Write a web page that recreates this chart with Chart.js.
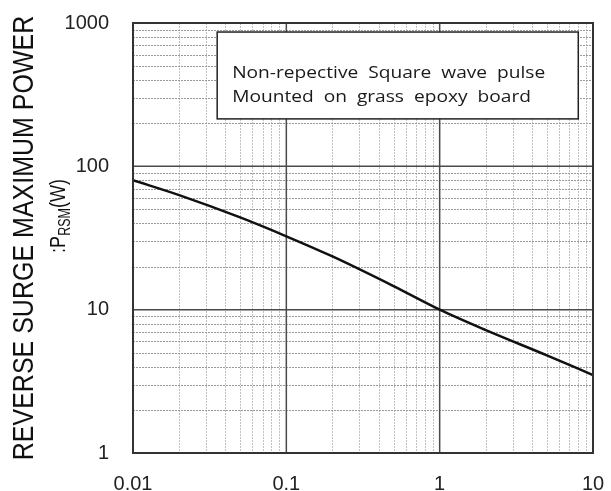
<!DOCTYPE html>
<html><head><meta charset="utf-8">
<script src="https://cdn.jsdelivr.net/npm/chart.js@4/dist/chart.umd.min.js"></script>
<style>html,body{margin:0;padding:0;background:#fff}#wrap{width:611px;height:491px}</style>
</head><body><div id="wrap"><canvas id="c" width="611" height="491"></canvas></div>
<script>
// Pulse width (ms) vs reverse surge maximum power (W)
const pulseWidth = [0.01, 0.02, 0.05, 0.1, 0.2, 0.5, 1, 2, 5, 10];
const powerW     = [80, 63, 44, 32.5, 23.5, 14.6, 10, 7.2, 4.8, 3.5];
const xTicks = [0.01, 0.1, 1, 10];
const yTicks = [1, 10, 100, 1000];
const yTitle = 'REVERSE SURGE MAXIMUM POWER';
const yTitle2 = [':P', 'RSM', '(W)'];
const noteLines = ['Non-repective  Square  wave  pulse', 'Mounted  on  grass  epoxy  board'];

function minorValues(min, max){
  const v=[];
  for(let d=min; d<max; d*=10){ for(let k=2;k<=9;k++) v.push(d*k); }
  return v;
}

const overlay = {
  id:'overlay',
  beforeDatasetsDraw(chart){
    const ctx=chart.ctx, a=chart.chartArea, xs=chart.scales.x, ys=chart.scales.y;
    ctx.save();
    ctx.lineWidth=1;
    ctx.setLineDash([2,1]);
    ctx.strokeStyle='#c0c0c0';
    minorValues(0.01,10).forEach(v=>{
      const x=Math.round(xs.getPixelForValue(v))+0.5;
      ctx.beginPath(); ctx.moveTo(x,a.top); ctx.lineTo(x,a.bottom); ctx.stroke();
    });
    ctx.strokeStyle='#9a9a9a';
    minorValues(1,1000).forEach(v=>{
      const y=Math.round(ys.getPixelForValue(v))+0.5;
      ctx.beginPath(); ctx.moveTo(a.left,y); ctx.lineTo(a.right,y); ctx.stroke();
    });
    ctx.setLineDash([]);
    ctx.strokeStyle='#4a4a4a';
    ctx.lineWidth=1.5;
    xTicks.forEach(v=>{const x=xs.getPixelForValue(v);ctx.beginPath();ctx.moveTo(x,a.top);ctx.lineTo(x,a.bottom);ctx.stroke();});
    yTicks.forEach(v=>{const y=ys.getPixelForValue(v);ctx.beginPath();ctx.moveTo(a.left,y);ctx.lineTo(a.right,y);ctx.stroke();});
    ctx.restore();
  },
  afterDatasetsDraw(chart){
    const ctx=chart.ctx, a=chart.chartArea;
    ctx.save();
    // frame
    ctx.strokeStyle='#333'; ctx.lineWidth=2;
    ctx.strokeRect(a.left,a.top,a.right-a.left,a.bottom-a.top);
    // note box
    const w=a.right-a.left, h=a.bottom-a.top;
    const bx=a.left+w*0.183, by=a.top+h*0.021, bw=w*0.785, bh=h*0.202;
    ctx.fillStyle='#fff'; ctx.fillRect(bx,by,bw,bh);
    ctx.strokeStyle='#222'; ctx.lineWidth=1.5; ctx.strokeRect(bx,by,bw,bh);
    ctx.fillStyle='#1a1a1a';
    ctx.font='17px "Open Sans"';
    ctx.textBaseline='middle'; ctx.textAlign='left';
    const tw=ctx.measureText(noteLines[0]).width;
    const sx=(bw*0.867)/tw;
    [0.47,0.75].forEach((f,i)=>{
      ctx.save();
      ctx.translate(bx+15, by+bh*f);
      ctx.scale(sx,1);
      ctx.fillText(noteLines[i],0,0);
      ctx.restore();
    });
    // y title
    ctx.fillStyle='#111';
    ctx.translate(25, 238);
    ctx.rotate(-Math.PI/2);
    ctx.scale(1,1.2);
    ctx.textAlign='center';
    ctx.textBaseline='middle';
    ctx.font='25px "Liberation Sans", Arial';
    ctx.fillText(yTitle,0,0);
    ctx.restore();
    ctx.save();
    ctx.fillStyle='#111';
    ctx.translate(59, 216);
    ctx.rotate(-Math.PI/2);
    ctx.scale(1,1.25);
    ctx.textBaseline='middle';
    const f1='18px "Liberation Sans", Arial', f2='12.5px "Liberation Sans", Arial';
    ctx.font=f1; const w1=ctx.measureText(yTitle2[0]).width, w3=ctx.measureText(yTitle2[2]).width;
    ctx.font=f2; const w2=ctx.measureText(yTitle2[1]).width;
    let x0=-(w1+w2+w3)/2;
    ctx.textAlign='left';
    ctx.font=f1; ctx.fillText(yTitle2[0],x0,0);
    ctx.font=f2; ctx.fillText(yTitle2[1],x0+w1,5);
    ctx.font=f1; ctx.fillText(yTitle2[2],x0+w1+w2,0);
    ctx.restore();
  }
};

new Chart(document.getElementById('c'),{
  type:'line',
  data:{datasets:[{
    data:pulseWidth.map((x,i)=>({x:x,y:powerW[i]})),
    borderColor:'#111', borderWidth:2.5, pointRadius:0,
    cubicInterpolationMode:'monotone', fill:false
  }]},
  options:{
    responsive:false, animation:false,
    layout:{padding:{top:23,right:18,left:0,bottom:0}},
    plugins:{legend:{display:false},tooltip:{enabled:false}},
    scales:{
      x:{type:'logarithmic',min:0.01,max:10,
        afterBuildTicks(s){s.ticks=xTicks.map(v=>({value:v}));},
        afterFit(s){s.height=38; s.paddingLeft=10; s.paddingRight=10;},
        grid:{display:false,drawTicks:false},
        border:{display:false},
        ticks:{autoSkip:false,maxRotation:0,padding:19,color:'#222',
          font:{family:'"Liberation Sans", Arial',size:20},
          callback:(v)=>String(v)}
      },
      y:{type:'logarithmic',min:1,max:1000,
        afterBuildTicks(s){s.ticks=yTicks.map(v=>({value:v}));},
        afterFit(s){s.width=133; s.paddingTop=10; s.paddingBottom=10;},
        grid:{display:false,drawTicks:false},
        border:{display:false},
        ticks:{autoSkip:false,padding:24,color:'#222',
          font:{family:'"Liberation Sans", Arial',size:20},
          callback:(v)=>String(v)}
      }
    }
  },
  plugins:[overlay]
});
</script></body></html>
